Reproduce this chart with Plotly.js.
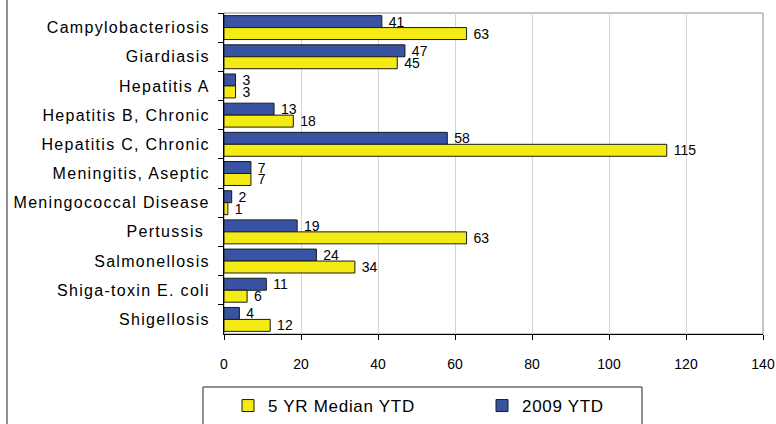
<!DOCTYPE html>
<html>
<head>
<meta charset="utf-8">
<script src="https://cdn.plot.ly/plotly-3.0.1.min.js"></script>
<style>
html, body { margin: 0; padding: 0; background: #ffffff; overflow: hidden; }
#chart { width: 776px; height: 424px; }
.ytick text { letter-spacing: 1.3px; }
.legendtext { letter-spacing: 0.7px; }
</style>
</head>
<body>
<div id="chart"></div>
<script>
const categories = [
  "Campylobacteriosis",
  "Giardiasis",
  "Hepatitis A",
  "Hepatitis B, Chronic",
  "Hepatitis C, Chronic",
  "Meningitis, Aseptic",
  "Meningococcal Disease",
  "Pertussis ",
  "Salmonellosis",
  "Shiga-toxin E. coli",
  "Shigellosis"
];
const ytd2009 = [41, 47, 3, 13, 58, 7, 2, 19, 24, 11, 4];
const median5yr = [63, 45, 3, 18, 115, 7, 1, 63, 34, 6, 12];
const seriesNames = ["2009 YTD", "5 YR Median YTD"];
const xTickVals = [0, 20, 40, 60, 80, 100, 120, 140];

const W = 776, H = 424;
const M = { l: 224, r: 13, t: 13, b: 90, autoexpand: false };
const PW = W - M.l - M.r, PH = H - M.t - M.b;
const px = x => (x - M.l) / PW;
const py = y => (H - M.b - y) / PH;

const FONT = "Liberation Sans, Arial, sans-serif";
const labelFont = { family: FONT, size: 14, color: "#000000" };

const traces = [
  {
    type: "bar", orientation: "h", name: seriesNames[0],
    y: categories, x: ytd2009,
    marker: { color: "#3953a4", line: { color: "#1a1a1a", width: 1 } },
    texttemplate: " %{x}", textposition: "outside",
    textfont: labelFont, constraintext: "none", cliponaxis: false,
    legendrank: 2, hoverinfo: "x+y"
  },
  {
    type: "bar", orientation: "h", name: seriesNames[1],
    y: categories, x: median5yr,
    marker: { color: "#f5eb14", line: { color: "#1a1a1a", width: 1 } },
    texttemplate: " %{x}", textposition: "outside",
    textfont: labelFont, constraintext: "none", cliponaxis: false,
    legendrank: 1, hoverinfo: "x+y"
  }
];

const layout = {
  width: W, height: H,
  margin: M,
  paper_bgcolor: "#ffffff", plot_bgcolor: "#ffffff",
  barmode: "group", bargap: 0.18, bargroupgap: 0,
  font: { family: FONT, color: "#000000" },
  xaxis: {
    range: [0, 140], tickvals: xTickVals, ticktext: xTickVals.map(String),
    showgrid: true, gridcolor: "#d4d4d4", gridwidth: 1,
    showline: true, linecolor: "#000000", linewidth: 1,
    ticks: "outside", ticklen: 5, tickcolor: "#000000",
    ticklabelstandoff: 12,
    tickfont: { family: FONT, size: 14, color: "#000000" },
    zeroline: false, fixedrange: true, automargin: false
  },
  yaxis: {
    type: "category", autorange: "reversed",
    showline: true, linecolor: "#000000", linewidth: 1,
    ticks: "outside", ticklen: 5, tickcolor: "#000000", tickson: "boundaries",
    ticklabelstandoff: 10,
    tickfont: { family: FONT, size: 16, color: "#000000" },
    showgrid: false, zeroline: false, fixedrange: true, automargin: false
  },
  showlegend: true,
  legend: {
    orientation: "h", x: px(228), xanchor: "left", y: py(388), yanchor: "top",
    bgcolor: "rgba(0,0,0,0)", borderwidth: 0,
    font: { family: FONT, size: 17, color: "#000000" },
    entrywidth: 209, entrywidthmode: "pixels",
    itemclick: false, itemdoubleclick: false
  },
  shapes: [
    { type: "rect", xref: "paper", yref: "paper", x0: 0, x1: 1, y0: 0, y1: 1,
      line: { color: "#8c8c8c", width: 1 }, layer: "below" },
    { type: "line", xref: "paper", yref: "paper", x0: px(7), x1: px(7), y0: py(460), y1: py(-10),
      line: { color: "#222222", width: 1 } },
    { type: "rect", xref: "paper", yref: "paper", x0: px(203), x1: px(642), y0: py(387), y1: py(460),
      line: { color: "#222222", width: 1 }, fillcolor: "rgba(0,0,0,0)", layer: "below" }
  ]
};

Plotly.newPlot("chart", traces, layout, { displayModeBar: false, staticPlot: true });
</script>
</body>
</html>
